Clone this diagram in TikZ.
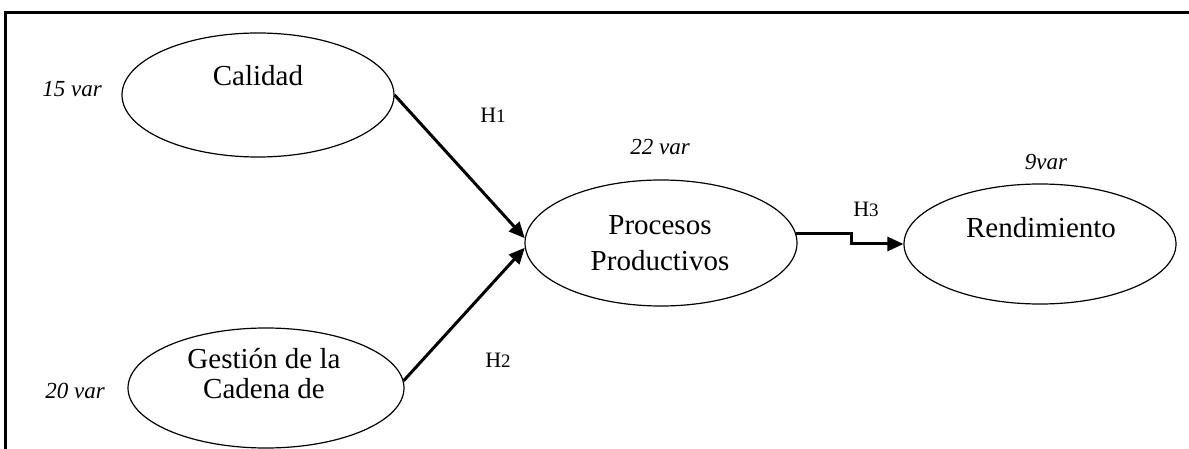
\documentclass[tikz,border=0pt]{standalone}
\usepackage{fontspec}
\setmainfont{Liberation Serif}
\usetikzlibrary{shapes.geometric,arrows.meta,calc}
\begin{document}
\begin{tikzpicture}[x=1pt,y=-1pt,
  ell/.style={draw,ellipse,line width=1.2pt,inner sep=0pt},
  lbl/.style={font=\fontsize{29}{34}\selectfont,inner sep=0pt,anchor=base},
  varl/.style={font=\fontsize{23}{27}\selectfont\itshape,inner sep=0pt,anchor=base},
  hyp/.style={font=\fontsize{22}{26}\selectfont,inner sep=0pt,anchor=base},
  conn/.style={line width=3pt,-{Triangle[length=16pt,width=14pt]}},
  frameline/.style={line width=3pt}]
\useasboundingbox (0,0) rectangle (1189,449);
% frame
\coordinate (fbl) at (5,449);
\coordinate (ftl) at (5,12.5);
\coordinate (ftr) at (1189,12.5);
\draw[frameline] (fbl) -- (ftl) -- (ftr);
% ellipses
\node[ell,minimum width=272pt,minimum height=124pt] (cal) at (258,95) {};
\node[ell,minimum width=276pt,minimum height=120pt] (ges) at (266,388) {};
\node[ell,minimum width=272pt,minimum height=126pt] (proc) at (661,243) {};
\node[ell,minimum width=272pt,minimum height=120pt] (rend) at (1040,244) {};
% texts in ellipses
\node[lbl] (caltxt) at (258,86) {Calidad};
\node[lbl] (gestA) at (264,368) {Gestión de la};
\node[lbl] (gestB) at (264,398) {Cadena de};
\node[lbl] (procA) at (660,235) {Procesos};
\node[lbl] (procB) at (660,271) {Productivos};
\node[lbl] (rendtxt) at (1041,237) {Rendimiento};
% variable counts
\node[varl] (v15) at (72,97) {15 var};
\node[varl] (v20) at (75,398) {20 var};
\node[varl] (v22) at (660,155) {22 var};
\node[varl] (v9) at (1046,170) {9var};
% hypotheses
\node[hyp] (h1) at (493,123) {H{\fontsize{19}{22}\selectfont 1}};
\node[hyp] (h2) at (498,367) {H{\fontsize{19}{22}\selectfont 2}};
\node[hyp] (h3) at (866,217) {H{\fontsize{19}{22}\selectfont 3}};
% connectors
\draw[conn] (cal.east) -- (proc.178);
\draw[conn] (ges.3) -- (proc.182);
\coordinate (h3step) at (851,233);
\draw[conn] (proc.4) -- (proc.4 -| h3step) |- (rend.west);
\end{tikzpicture}
\end{document}
